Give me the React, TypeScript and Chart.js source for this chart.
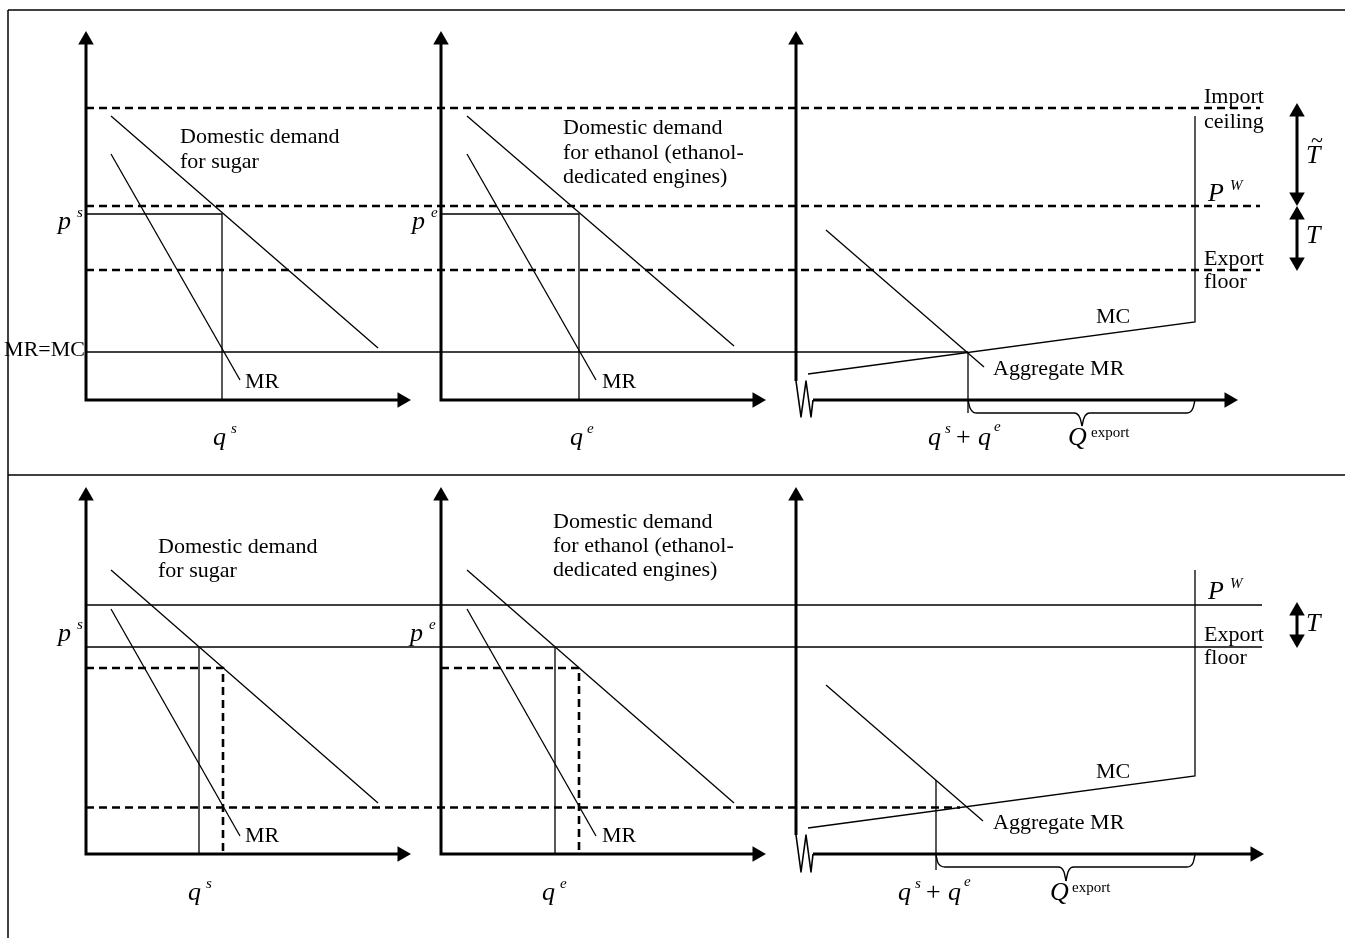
import React, { useEffect, useRef } from "react";
import { Chart, registerables } from "chart.js";
Chart.register(...registerables);

type P = [number, number];

// ---------- diagram values (page-pixel coordinate space, y grows downward) ----------
const frameLines: P[][] = [
  [[8, 10], [1345, 10]],
  [[8, 10], [8, 938]],
  [[8, 475], [1345, 475]],
];

// ---- top panel ----
const topAxes: P[][] = [
  [[86, 40], [86, 400], [402, 400]],
  [[441, 40], [441, 400], [757, 400]],
  [[796, 40], [796, 381]],
  [[813, 400], [1229, 400]],
];
const topBreak: P[] = [[796, 381], [801, 417], [806, 381], [811, 417], [813, 400]];
const topDashed: P[][] = [
  [[86, 108], [1260, 108]],
  [[86, 206], [1260, 206]],
  [[86, 270], [1260, 270]],
];
const topSolid: P[][] = [
  [[86, 214], [222, 214], [222, 400]],
  [[441, 214], [579, 214], [579, 400]],
  [[86, 352], [968, 352]],
  [[968, 352], [968, 413]],
];
const topDemandSugar: P[] = [[111, 116], [378, 348]];
const topMRSugar: P[] = [[111, 154], [240, 380]];
const topDemandEthanol: P[] = [[467, 116], [734, 346]];
const topMREthanol: P[] = [[467, 154], [596, 380]];
const topAggregateMR: P[] = [[826, 230], [984, 367]];
const topMC: P[] = [[808, 374], [1195, 322], [1195, 116]];
const topBraceLeft: P[] = [[968, 400], [970, 408], [977, 413], [1074, 413], [1080, 418], [1082, 426]];
const topBraceRight: P[] = [[1082, 426], [1084, 418], [1090, 413], [1187, 413], [1193, 408], [1195, 400]];
const topTiltT: P[] = [[1297, 112], [1297, 197]];
const topT: P[] = [[1297, 215], [1297, 262]];

// ---- bottom panel ----
const botAxes: P[][] = [
  [[86, 496], [86, 854], [402, 854]],
  [[441, 496], [441, 854], [757, 854]],
  [[796, 496], [796, 835]],
  [[813, 854], [1255, 854]],
];
const botBreak: P[] = [[796, 835], [801, 872], [806, 835], [811, 872], [813, 854]];
const botSolid: P[][] = [
  [[86, 605], [1262, 605]],
  [[86, 647], [1262, 647]],
  [[199, 647], [199, 854]],
  [[555, 647], [555, 854]],
  [[936, 780], [936, 870]],
];
const botDashed: P[][] = [
  [[86, 668], [223, 668], [223, 854]],
  [[441, 668], [579, 668], [579, 854]],
  [[86, 807.5], [960, 807.5]],
];
const botDemandSugar: P[] = [[111, 570], [378, 803]];
const botMRSugar: P[] = [[111, 609], [240, 836]];
const botDemandEthanol: P[] = [[467, 570], [734, 803]];
const botMREthanol: P[] = [[467, 609], [596, 836]];
const botAggregateMR: P[] = [[826, 685], [983, 821]];
const botMC: P[] = [[808, 828], [1195, 776], [1195, 570]];
const botBraceLeft: P[] = [[936, 855], [938, 863], [945, 867], [1058, 867], [1064, 872], [1066, 881]];
const botBraceRight: P[] = [[1066, 881], [1068, 872], [1074, 867], [1187, 867], [1193, 863], [1195, 855]];
const botT: P[] = [[1297, 610], [1297, 640]];

// arrow tips: [x, y]
const upTips: P[] = [[86, 31], [441, 31], [796, 31], [86, 487], [441, 487], [796, 487], [1297, 103], [1297, 206], [1297, 602]];
const rightTips: P[] = [[411, 400], [766, 400], [1238, 400], [411, 854], [766, 854], [1264, 854]];
const downTips: P[] = [[1297, 206], [1297, 271], [1297, 648]];

// ---------- text ----------
const REG = '22px "Liberation Serif"';
const IT = 'italic 26px "Liberation Serif"';
const SUP = 'italic 15px "Liberation Serif"';
const SUPR = '15px "Liberation Serif"';

type L = { t: string; x: number; y: number; f: string; a?: CanvasTextAlign; b?: CanvasTextBaseline };
const labels: L[] = [
  // top panel
  { t: "Domestic demand", x: 180, y: 137, f: REG, b: "middle" },
  { t: "for sugar", x: 180, y: 162, f: REG, b: "middle" },
  { t: "Domestic demand", x: 563, y: 128, f: REG, b: "middle" },
  { t: "for ethanol (ethanol-", x: 563, y: 153, f: REG, b: "middle" },
  { t: "dedicated engines)", x: 563, y: 177, f: REG, b: "middle" },
  { t: "MR", x: 245, y: 382, f: REG, b: "middle" },
  { t: "MR", x: 602, y: 382, f: REG, b: "middle" },
  { t: "MR=MC", x: 85, y: 350, f: REG, a: "right", b: "middle" },
  { t: "MC", x: 1096, y: 317, f: REG, b: "middle" },
  { t: "Aggregate MR", x: 993, y: 369, f: REG, b: "middle" },
  { t: "Import", x: 1204, y: 97, f: REG, b: "middle" },
  { t: "ceiling", x: 1204, y: 122, f: REG, b: "middle" },
  { t: "Export", x: 1204, y: 259, f: REG, b: "middle" },
  { t: "floor", x: 1204, y: 282, f: REG, b: "middle" },
  { t: "p", x: 58, y: 229, f: IT },
  { t: "s", x: 77, y: 217, f: SUP },
  { t: "p", x: 412, y: 229, f: IT },
  { t: "e", x: 431, y: 217, f: SUP },
  { t: "q", x: 213, y: 445, f: IT },
  { t: "s", x: 231, y: 433, f: SUP },
  { t: "q", x: 570, y: 445, f: IT },
  { t: "e", x: 587, y: 433, f: SUP },
  { t: "q", x: 928, y: 445, f: IT },
  { t: "s", x: 945, y: 433, f: SUP },
  { t: "+", x: 956, y: 445, f: '26px "Liberation Serif"' },
  { t: "q", x: 978, y: 445, f: IT },
  { t: "e", x: 994, y: 431, f: SUP },
  { t: "Q", x: 1068, y: 445, f: IT },
  { t: "export", x: 1091, y: 437, f: SUPR },
  { t: "P", x: 1208, y: 201, f: IT },
  { t: "W", x: 1230, y: 190, f: SUP },
  { t: "T", x: 1306, y: 163, f: IT },
  { t: "~", x: 1311, y: 147, f: '22px "Liberation Serif"' },
  { t: "T", x: 1306, y: 243, f: IT },
  // bottom panel
  { t: "Domestic demand", x: 158, y: 547, f: REG, b: "middle" },
  { t: "for sugar", x: 158, y: 571, f: REG, b: "middle" },
  { t: "Domestic demand", x: 553, y: 522, f: REG, b: "middle" },
  { t: "for ethanol (ethanol-", x: 553, y: 546, f: REG, b: "middle" },
  { t: "dedicated engines)", x: 553, y: 570, f: REG, b: "middle" },
  { t: "MR", x: 245, y: 836, f: REG, b: "middle" },
  { t: "MR", x: 602, y: 836, f: REG, b: "middle" },
  { t: "MC", x: 1096, y: 772, f: REG, b: "middle" },
  { t: "Aggregate MR", x: 993, y: 823, f: REG, b: "middle" },
  { t: "Export", x: 1204, y: 635, f: REG, b: "middle" },
  { t: "floor", x: 1204, y: 658, f: REG, b: "middle" },
  { t: "p", x: 58, y: 641, f: IT },
  { t: "s", x: 77, y: 629, f: SUP },
  { t: "p", x: 410, y: 641, f: IT },
  { t: "e", x: 429, y: 629, f: SUP },
  { t: "q", x: 188, y: 900, f: IT },
  { t: "s", x: 206, y: 888, f: SUP },
  { t: "q", x: 542, y: 900, f: IT },
  { t: "e", x: 560, y: 888, f: SUP },
  { t: "q", x: 898, y: 900, f: IT },
  { t: "s", x: 915, y: 888, f: SUP },
  { t: "+", x: 926, y: 900, f: '26px "Liberation Serif"' },
  { t: "q", x: 948, y: 900, f: IT },
  { t: "e", x: 964, y: 886, f: SUP },
  { t: "Q", x: 1050, y: 900, f: IT },
  { t: "export", x: 1072, y: 892, f: SUPR },
  { t: "P", x: 1208, y: 599, f: IT },
  { t: "W", x: 1230, y: 588, f: SUP },
  { t: "T", x: 1306, y: 631, f: IT },
];

// ---------- dataset builders ----------
const toXY = (pts: P[]) => pts.map(([x, y]) => ({ x, y }));
const line = (pts: P[], width: number, dash: number[] = [], smooth = false, join = "miter") => ({
  data: toXY(pts),
  showLine: true,
  borderColor: "#000",
  borderWidth: width,
  borderDash: dash,
  borderCapStyle: "butt",
  borderJoinStyle: join,
  pointRadius: 0,
  pointHoverRadius: 0,
  fill: false,
  tension: smooth ? 0.4 : 0,
  cubicInterpolationMode: smooth ? "monotone" : "default",
});
const AR = 9;
const arrows = (tips: P[], dir: "up" | "down" | "right") => ({
  data: tips.map(([x, y]) =>
    dir === "up" ? { x, y: y + AR } : dir === "down" ? { x, y: y - AR } : { x: x - AR, y }
  ),
  showLine: false,
  pointStyle: "triangle",
  pointRadius: AR,
  pointHoverRadius: AR,
  pointRotation: dir === "up" ? 0 : dir === "down" ? 180 : 90,
  pointBackgroundColor: "#000",
  pointBorderColor: "#000",
  pointBorderWidth: 0,
});

const textPlugin = {
  id: "diagramText",
  afterDatasetsDraw(chart: any) {
    const { ctx, scales } = chart;
    ctx.save();
    ctx.fillStyle = "#000";
    for (const l of labels) {
      ctx.font = l.f;
      ctx.textAlign = l.a || "left";
      ctx.textBaseline = l.b || "alphabetic";
      ctx.fillText(l.t, scales.x.getPixelForValue(l.x), scales.y.getPixelForValue(l.y));
    }
    ctx.restore();
  },
};

export default function App() {
  const ref = useRef<HTMLCanvasElement | null>(null);
  useEffect(() => {
    document.body.style.margin = "0";
    document.body.style.background = "#fff";
    if (!ref.current) return;
    const thin = 1.3;
    const datasets: any[] = [
      ...frameLines.map((s) => line(s, 1.5)),
      ...topAxes.map((s) => line(s, 3)),
      line(topBreak, 1.6, [], false, "round"),
      ...topDashed.map((s) => line(s, 2.6, [8, 5])),
      ...topSolid.map((s) => line(s, thin)),
      line(topDemandSugar, thin),
      line(topMRSugar, thin),
      line(topDemandEthanol, thin),
      line(topMREthanol, thin),
      line(topAggregateMR, thin),
      line(topMC, thin),
      line(topBraceLeft, 1.4, [], true),
      line(topBraceRight, 1.4, [], true),
      line(topTiltT, 3),
      line(topT, 3),
      ...botAxes.map((s) => line(s, 3)),
      line(botBreak, 1.6, [], false, "round"),
      ...botSolid.map((s) => line(s, thin)),
      ...botDashed.map((s) => line(s, 2.6, [8, 5])),
      line(botDemandSugar, thin),
      line(botMRSugar, thin),
      line(botDemandEthanol, thin),
      line(botMREthanol, thin),
      line(botAggregateMR, thin),
      line(botMC, thin),
      line(botBraceLeft, 1.4, [], true),
      line(botBraceRight, 1.4, [], true),
      line(botT, 3),
      arrows(upTips, "up"),
      arrows(downTips, "down"),
      arrows(rightTips, "right"),
    ];
    const chart = new Chart(ref.current, {
      type: "scatter",
      data: { datasets },
      options: {
        animation: false,
        responsive: false,
        devicePixelRatio: 1,
        events: [],
        layout: { padding: 0, autoPadding: false },
        plugins: { legend: { display: false }, tooltip: { enabled: false } },
        scales: {
          x: { type: "linear", min: 0, max: 1345, display: false },
          y: { type: "linear", min: 0, max: 938, reverse: true, display: false },
        },
      } as any,
      plugins: [textPlugin],
    });
    return () => chart.destroy();
  }, []);
  return (
    <div style={{ position: "fixed", left: 0, top: 0, width: 1345, height: 938, background: "#fff" }}>
      <canvas ref={ref} width={1345} height={938} style={{ width: 1345, height: 938, display: "block" }} />
    </div>
  );
}
